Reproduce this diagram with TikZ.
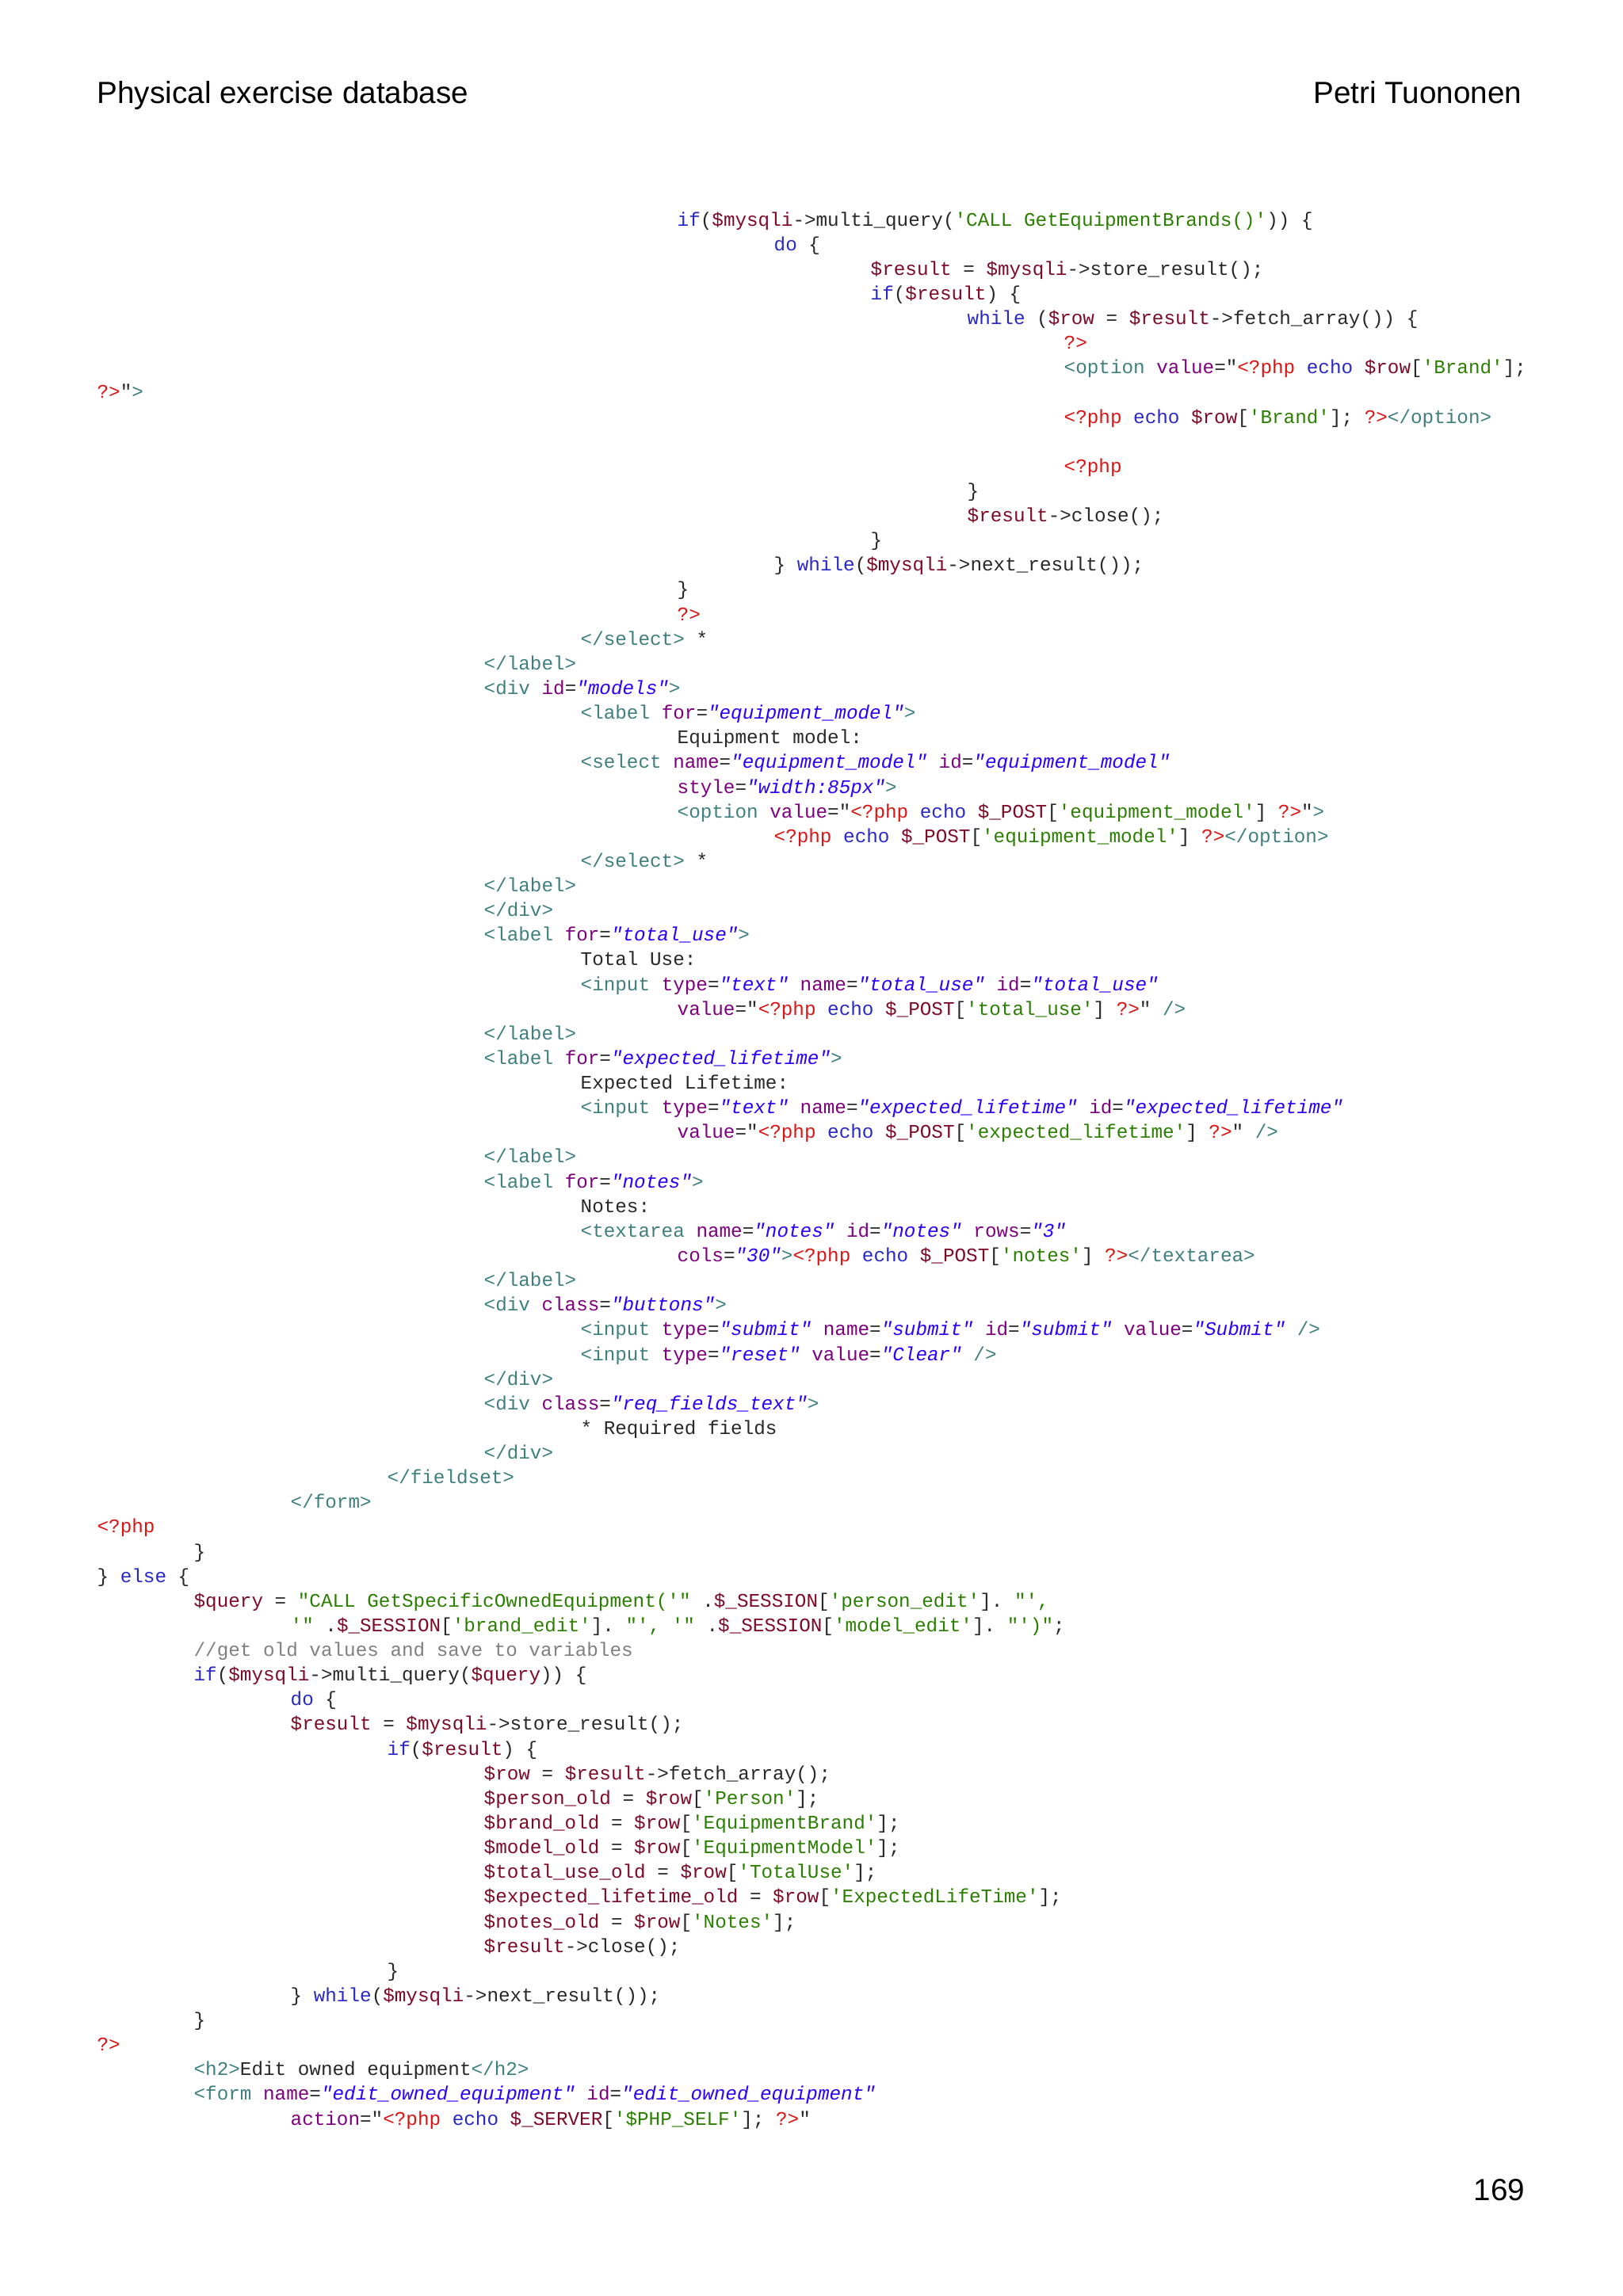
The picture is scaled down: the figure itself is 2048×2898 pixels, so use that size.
\documentclass[tikz,border=0pt]{standalone}
\usepackage{fontspec}
\setmainfont{Liberation Sans}
\setmonofont{Liberation Mono}
\definecolor{tagc}{RGB}{63,127,127}
\definecolor{attc}{RGB}{127,0,127}
\definecolor{strc}{RGB}{42,0,255}
\definecolor{phpc}{RGB}{220,20,20}
\definecolor{kwc}{RGB}{40,40,200}
\definecolor{varc}{RGB}{127,10,40}
\definecolor{gsc}{RGB}{42,127,0}
\definecolor{cmc}{RGB}{128,128,128}
\definecolor{txc}{RGB}{40,40,40}
\newcommand\Tg[1]{\textcolor{tagc}{#1}}
\newcommand\At[1]{\textcolor{attc}{#1}}
\newcommand\Sq[1]{\textcolor{strc}{\itshape #1}}
\newcommand\Ph[1]{\textcolor{phpc}{#1}}
\newcommand\Kw[1]{\textcolor{kwc}{#1}}
\newcommand\Vr[1]{\textcolor{varc}{#1}}
\newcommand\Gs[1]{\textcolor{gsc}{#1}}
\newcommand\Cm[1]{\textcolor{cmc}{#1}}
\newcommand\Ln[3]{\node[codeln] (l#1) at ({122+122*#2},{285+31.13*(#1-1)}) {#3};}
\begin{document}
\begin{tikzpicture}[x=0.3pt,y=-0.3pt,
  codeln/.style={anchor=base west,inner sep=0pt,text=txc,font=\ttfamily\fontsize{7.29}{9}\selectfont},
  hdr/.style={inner sep=0pt,font=\fontsize{11.6}{14}\selectfont,text=black}]
\useasboundingbox[fill=white] (0,0) rectangle (2048,2898);
\node[hdr,anchor=base west] (title) at (122,131) {Physical exercise database};
\node[hdr,anchor=base east] (author) at (1921,131) {Petri Tuononen};
\node[hdr,anchor=base east] (pnum) at (1925,2777) {169};
\Ln{1}{6}{\Kw{if}(\Vr{\$mysqli}->multi\_query(\Gs{'CALL GetEquipmentBrands()'})) \{}
\Ln{2}{7}{\Kw{do} \{}
\Ln{3}{8}{\Vr{\$result} = \Vr{\$mysqli}->store\_result();}
\Ln{4}{8}{\Kw{if}(\Vr{\$result}) \{}
\Ln{5}{9}{\Kw{while} (\Vr{\$row} = \Vr{\$result}->fetch\_array()) \{}
\Ln{6}{10}{\Ph{?>}}
\Ln{7}{10}{\Tg{<option} \At{value}="\Ph{<?php} \Kw{echo} \Vr{\$row}[\Gs{'Brand'}];}
\Ln{8}{0}{\Ph{?>}"\Tg{>}}
\Ln{9}{10}{\Ph{<?php} \Kw{echo} \Vr{\$row}[\Gs{'Brand'}]; \Ph{?>}\Tg{</option>}}
\Ln{11}{10}{\Ph{<?php}}
\Ln{12}{9}{\}}
\Ln{13}{9}{\Vr{\$result}->close();}
\Ln{14}{8}{\}}
\Ln{15}{7}{\} \Kw{while}(\Vr{\$mysqli}->next\_result());}
\Ln{16}{6}{\}}
\Ln{17}{6}{\Ph{?>}}
\Ln{18}{5}{\Tg{</select>} *}
\Ln{19}{4}{\Tg{</label>}}
\Ln{20}{4}{\Tg{<div} \At{id}=\Sq{"models"}\Tg{>}}
\Ln{21}{5}{\Tg{<label} \At{for}=\Sq{"equipment\_model"}\Tg{>}}
\Ln{22}{6}{Equipment model:}
\Ln{23}{5}{\Tg{<select} \At{name}=\Sq{"equipment\_model"} \At{id}=\Sq{"equipment\_model"}}
\Ln{24}{6}{\At{style}=\Sq{"width:85px"}\Tg{>}}
\Ln{25}{6}{\Tg{<option} \At{value}="\Ph{<?php} \Kw{echo} \Vr{\$\_POST}[\Gs{'equipment\_model'}] \Ph{?>}"\Tg{>}}
\Ln{26}{7}{\Ph{<?php} \Kw{echo} \Vr{\$\_POST}[\Gs{'equipment\_model'}] \Ph{?>}\Tg{</option>}}
\Ln{27}{5}{\Tg{</select>} *}
\Ln{28}{4}{\Tg{</label>}}
\Ln{29}{4}{\Tg{</div>}}
\Ln{30}{4}{\Tg{<label} \At{for}=\Sq{"total\_use"}\Tg{>}}
\Ln{31}{5}{Total Use:}
\Ln{32}{5}{\Tg{<input} \At{type}=\Sq{"text"} \At{name}=\Sq{"total\_use"} \At{id}=\Sq{"total\_use"}}
\Ln{33}{6}{\At{value}="\Ph{<?php} \Kw{echo} \Vr{\$\_POST}[\Gs{'total\_use'}] \Ph{?>}" \Tg{/>}}
\Ln{34}{4}{\Tg{</label>}}
\Ln{35}{4}{\Tg{<label} \At{for}=\Sq{"expected\_lifetime"}\Tg{>}}
\Ln{36}{5}{Expected Lifetime:}
\Ln{37}{5}{\Tg{<input} \At{type}=\Sq{"text"} \At{name}=\Sq{"expected\_lifetime"} \At{id}=\Sq{"expected\_lifetime"}}
\Ln{38}{6}{\At{value}="\Ph{<?php} \Kw{echo} \Vr{\$\_POST}[\Gs{'expected\_lifetime'}] \Ph{?>}" \Tg{/>}}
\Ln{39}{4}{\Tg{</label>}}
\Ln{40}{4}{\Tg{<label} \At{for}=\Sq{"notes"}\Tg{>}}
\Ln{41}{5}{Notes:}
\Ln{42}{5}{\Tg{<textarea} \At{name}=\Sq{"notes"} \At{id}=\Sq{"notes"} \At{rows}=\Sq{"3"}}
\Ln{43}{6}{\At{cols}=\Sq{"30"}\Tg{>}\Ph{<?php} \Kw{echo} \Vr{\$\_POST}[\Gs{'notes'}] \Ph{?>}\Tg{</textarea>}}
\Ln{44}{4}{\Tg{</label>}}
\Ln{45}{4}{\Tg{<div} \At{class}=\Sq{"buttons"}\Tg{>}}
\Ln{46}{5}{\Tg{<input} \At{type}=\Sq{"submit"} \At{name}=\Sq{"submit"} \At{id}=\Sq{"submit"} \At{value}=\Sq{"Submit"} \Tg{/>}}
\Ln{47}{5}{\Tg{<input} \At{type}=\Sq{"reset"} \At{value}=\Sq{"Clear"} \Tg{/>}}
\Ln{48}{4}{\Tg{</div>}}
\Ln{49}{4}{\Tg{<div} \At{class}=\Sq{"req\_fields\_text"}\Tg{>}}
\Ln{50}{5}{* Required fields}
\Ln{51}{4}{\Tg{</div>}}
\Ln{52}{3}{\Tg{</fieldset>}}
\Ln{53}{2}{\Tg{</form>}}
\Ln{54}{0}{\Ph{<?php}}
\Ln{55}{1}{\}}
\Ln{56}{0}{\} \Kw{else} \{}
\Ln{57}{1}{\Vr{\$query} = \Gs{"CALL GetSpecificOwnedEquipment('"} .\Vr{\$\_SESSION}[\Gs{'person\_edit'}]. \Gs{"',}}
\Ln{58}{2}{\Gs{'"} .\Vr{\$\_SESSION}[\Gs{'brand\_edit'}]. \Gs{"', '"} .\Vr{\$\_SESSION}[\Gs{'model\_edit'}]. \Gs{"')"};}
\Ln{59}{1}{\Cm{//get old values and save to variables}}
\Ln{60}{1}{\Kw{if}(\Vr{\$mysqli}->multi\_query(\Vr{\$query})) \{}
\Ln{61}{2}{\Kw{do} \{}
\Ln{62}{2}{\Vr{\$result} = \Vr{\$mysqli}->store\_result();}
\Ln{63}{3}{\Kw{if}(\Vr{\$result}) \{}
\Ln{64}{4}{\Vr{\$row} = \Vr{\$result}->fetch\_array();}
\Ln{65}{4}{\Vr{\$person\_old} = \Vr{\$row}[\Gs{'Person'}];}
\Ln{66}{4}{\Vr{\$brand\_old} = \Vr{\$row}[\Gs{'EquipmentBrand'}];}
\Ln{67}{4}{\Vr{\$model\_old} = \Vr{\$row}[\Gs{'EquipmentModel'}];}
\Ln{68}{4}{\Vr{\$total\_use\_old} = \Vr{\$row}[\Gs{'TotalUse'}];}
\Ln{69}{4}{\Vr{\$expected\_lifetime\_old} = \Vr{\$row}[\Gs{'ExpectedLifeTime'}];}
\Ln{70}{4}{\Vr{\$notes\_old} = \Vr{\$row}[\Gs{'Notes'}];}
\Ln{71}{4}{\Vr{\$result}->close();}
\Ln{72}{3}{\}}
\Ln{73}{2}{\} \Kw{while}(\Vr{\$mysqli}->next\_result());}
\Ln{74}{1}{\}}
\Ln{75}{0}{\Ph{?>}}
\Ln{76}{1}{\Tg{<h2>}Edit owned equipment\Tg{</h2>}}
\Ln{77}{1}{\Tg{<form} \At{name}=\Sq{"edit\_owned\_equipment"} \At{id}=\Sq{"edit\_owned\_equipment"}}
\Ln{78}{2}{\At{action}="\Ph{<?php} \Kw{echo} \Vr{\$\_SERVER}[\Gs{'\$PHP\_SELF'}]; \Ph{?>}"}
\end{tikzpicture}
\end{document}
